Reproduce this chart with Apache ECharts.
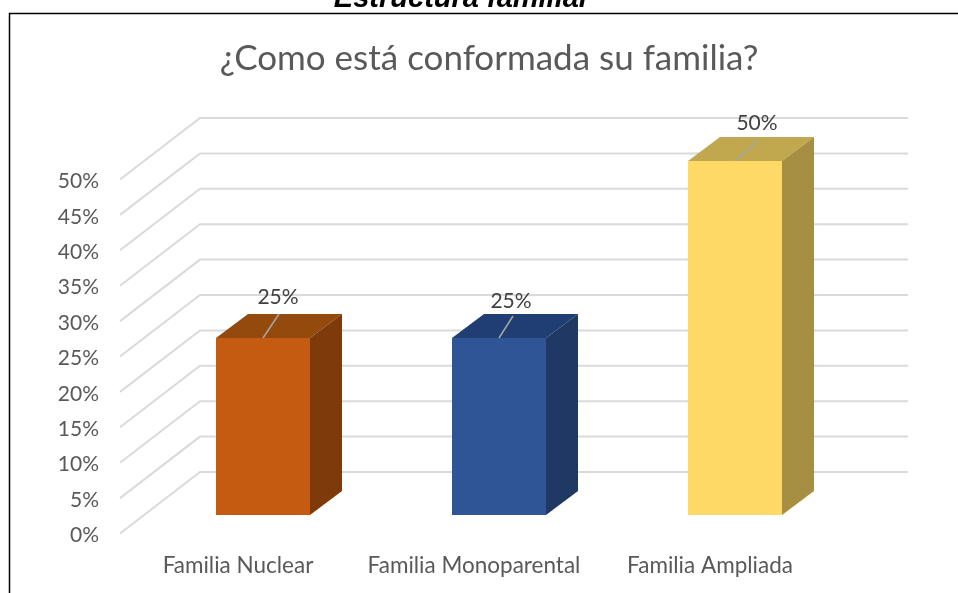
<!DOCTYPE html>
<html>
<head>
<meta charset="utf-8">
<style>html,body{margin:0;padding:0;background:#fff}#c{width:958px;height:593px}</style>
<script src="https://cdn.jsdelivr.net/npm/echarts@6/dist/echarts.min.js"></script>
</head>
<body>
<div id="c"></div>
<script>
const categories = ['Familia Nuclear', 'Familia Monoparental', 'Familia Ampliada'];
const values = [25, 25, 50];
const yTicks = [0, 5, 10, 15, 20, 25, 30, 35, 40, 45, 50];
const chartTitle = '¿Como está conformada su familia?';
const pageHeading = 'Estructura familiar';

const FONT = 'Lato';
const faces = [
  { front: '#C55A11', top: '#954A0D', side: '#7E3A0A' },
  { front: '#2F5597', top: '#203E74', side: '#1F3864' },
  { front: '#FFD966', top: '#C1A84F', side: '#A68E42' }
];
const leaderEnds = [[16, -24], [14, -22], [23, -21]];
const labelPos = [[15, -41], [12, -37], [22, -38]];
const wall = { dx: 80, dy: -61.5 };
const barFront = { dx: 25, dy: -18.5 };
const barDepth = { dx: 32, dy: -24 };
const barWidth = 94;

const chart = echarts.init(document.getElementById('c'), null, { renderer: 'canvas' });

function renderWall(params, api) {
  const v = api.value(1);
  const cs = params.coordSys;
  const y = api.coord([0, v])[1];
  const x0 = cs.x, x1 = cs.x + wall.dx, x2 = cs.x + cs.width + wall.dx, y1 = y + wall.dy;
  return {
    type: 'polyline',
    shape: { points: [[x0, y], [x1, y1], [x2, y1]] },
    style: { fill: 'none', stroke: '#DADADA', lineWidth: 2 },
    silent: true
  };
}

function renderBar(params, api) {
  const i = api.value(0);
  const v = api.value(1);
  const base = api.coord([i, 0]);
  const topP = api.coord([i, v]);
  const l = base[0] + barFront.dx - barWidth / 2;
  const r = l + barWidth;
  const b = base[1] + barFront.dy;
  const t = topP[1] + barFront.dy;
  const d = barDepth;
  const f = faces[i];
  const cx = (l + r) / 2;
  const end = leaderEnds[i];
  const lab = labelPos[i];
  return {
    type: 'group',
    children: [
      { type: 'polygon', shape: { points: [[l, t], [r, t], [r + d.dx, t + d.dy], [l + d.dx, t + d.dy]] }, style: { fill: f.top } },
      { type: 'polygon', shape: { points: [[r, t], [r + d.dx, t + d.dy], [r + d.dx, b + d.dy], [r, b]] }, style: { fill: f.side } },
      { type: 'rect', shape: { x: l, y: t, width: barWidth, height: b - t }, style: { fill: f.front } },
      { type: 'line', shape: { x1: cx, y1: t, x2: cx + end[0], y2: t + end[1] }, style: { stroke: '#A6A6A6', lineWidth: 1.5 } },
      { type: 'text', style: { x: cx + lab[0], y: t + lab[1], text: v + '%', fill: '#404040', font: '21px ' + FONT, textAlign: 'center', textVerticalAlign: 'middle' } }
    ]
  };
}

chart.setOption({
  animation: false,
  backgroundColor: '#fff',
  title: [
    { text: chartTitle, left: 484, top: 36, textAlign: 'center',
      textStyle: { fontFamily: FONT, fontSize: 35, fontWeight: 'normal', color: '#595959' } }
  ],
  graphic: [
    { type: 'rect', silent: true, shape: { x: 9.5, y: 13.5, width: 1000, height: 700 },
      style: { fill: 'none', stroke: '#000', lineWidth: 1.5 } },
    { type: 'text', silent: true, style: { x: 462, y: 13, text: pageHeading, textAlign: 'center', textVerticalAlign: 'bottom',
      font: 'italic bold 29px "Liberation Sans"', fill: '#000' } }
  ],
  grid: { left: 120, top: 179.5, width: 708, height: 354 },
  xAxis: {
    type: 'category', data: categories,
    axisLine: { show: false }, axisTick: { show: false },
    axisLabel: { margin: 21, fontFamily: FONT, fontSize: 22.5, color: '#595959', interval: 0 }
  },
  yAxis: {
    type: 'value', min: 0, max: 50, interval: 5,
    splitLine: { show: false }, axisLine: { show: false }, axisTick: { show: false },
    axisLabel: {
      margin: 21,
      formatter: v => '{a|' + v + '%}',
      rich: { a: { fontFamily: FONT, fontSize: 21, color: '#595959', padding: [4, 0, 0, 0] } }
    }
  },
  series: [
    { type: 'custom', renderItem: renderWall, clip: false, silent: true, encode: { x: 0, y: 1 },
      data: yTicks.map(v => [0, v]), z: 1 },
    { type: 'custom', renderItem: renderBar, clip: false, encode: { x: 0, y: 1 },
      data: values.map((v, i) => [i, v]), z: 2 }
  ]
});
</script>
</body>
</html>
